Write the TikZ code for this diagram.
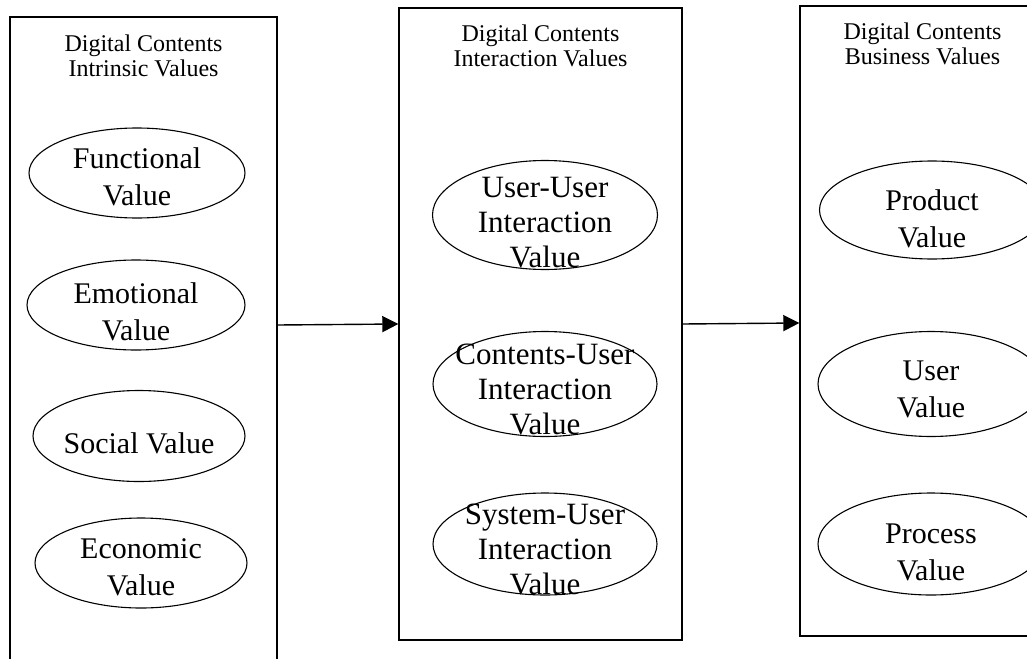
\documentclass[tikz,border=0pt]{standalone}
\usepackage{fontspec}
\setmainfont{Liberation Serif}
\usetikzlibrary{shapes.geometric,arrows.meta,positioning}

\begin{document}
\begin{tikzpicture}[x=1pt, y=-1pt,
    grp/.style={draw, line width=1.4pt, inner sep=0pt},
    ttl/.style={align=center, inner sep=0pt, font=\fontsize{24}{25}\selectfont},
    oval/.style={ellipse, draw, line width=1.1pt, inner sep=0pt, minimum width=#1},
    vtxt/.style={align=center, inner sep=0pt, font=\fontsize{30}{37}\selectfont},
    mtxt/.style={align=center, inner sep=0pt, font=\fontsize{31}{35}\selectfont},
    link/.style={-{Triangle[length=16pt, width=16pt]}, line width=1.4pt}]

    \useasboundingbox (0,0) rectangle (1027,658);
    \clip (0,0) rectangle (1027,658);

    % the three groups
    \node[grp, minimum width=267pt, minimum height=663pt] (ib) at (143.5,348.5) {};
    \node[grp, minimum width=283pt, minimum height=632pt] (ia) at (540.5,324) {};
    \node[grp, minimum width=245pt, minimum height=630pt] (bv) at (922.5,321) {};

    \node[ttl, below=18pt of ib.north] (ib-t) {Digital Contents\\Intrinsic Values};
    \node[ttl, below=17.5pt of ia.north] (ia-t) {Digital Contents\\Interaction Values};
    \node[ttl, below=17.5pt of bv.north] (bv-t) {Digital Contents\\Business Values};

    % intrinsic values
    \node[oval=216pt, minimum height=90pt] (fv) at (137,173) {};
    \node[oval=218pt, minimum height=90pt] (ev) at (136,305) {};
    \node[oval=212pt, minimum height=91pt] (sv) at (139,436) {};
    \node[oval=212pt, minimum height=90pt] (cv) at (141,563) {};
    \node[vtxt] (fv-t) at ([yshift=-4pt]fv) {Functional\\Value};
    \node[vtxt] (ev-t) at ([yshift=-7pt]ev) {Emotional\\Value};
    \node[vtxt] (sv-t) at ([yshift=-7pt]sv) {Social Value};
    \node[vtxt] (cv-t) at ([yshift=-4pt]cv) {Economic\\Value};

    % interaction values
    \node[oval=225pt, minimum height=109pt] (uu) at (545,215) {};
    \node[oval=224pt, minimum height=105pt] (cu) at (545,384) {};
    \node[oval=224pt, minimum height=102pt] (su) at (545,544) {};
    \node[mtxt] (uu-t) at ([yshift=-8pt]uu) {User-User\\Interaction\\Value};
    \node[mtxt] (cu-t) at ([yshift=-5pt]cu) {Contents-User\\Interaction\\Value};
    \node[mtxt] (su-t) at ([yshift=-5pt]su) {System-User\\Interaction\\Value};

    % business values
    \node[oval=225pt, minimum height=98pt] (pv) at (932,210) {};
    \node[oval=226pt, minimum height=105pt] (uv) at (931,384) {};
    \node[oval=226pt, minimum height=102pt] (rv) at (931,544) {};
    \node[vtxt] (pv-t) at ([yshift=-9pt]pv) {Product\\Value};
    \node[vtxt] (uv-t) at ([yshift=-5pt]uv) {User\\Value};
    \node[vtxt] (rv-t) at ([yshift=-8pt]rv) {Process\\Value};

    \draw[link] ([yshift=23.5pt]ib.east) -- (ia.west);
    \draw[link] (ia.east) -- ([yshift=-2pt]bv.west);
\end{tikzpicture}
\end{document}
